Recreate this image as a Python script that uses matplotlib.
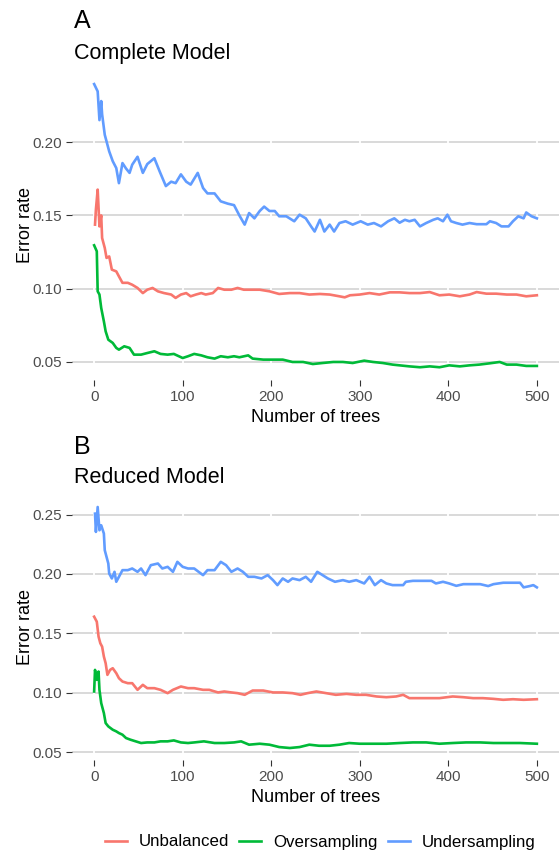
import numpy as np
import matplotlib
matplotlib.use("Agg")
import matplotlib.pyplot as plt
from matplotlib.lines import Line2D
from matplotlib.ticker import FormatStrFormatter

plt.rcParams['font.family'] = ['Liberation Sans', 'DejaVu Sans']

# ---- Panel A: complete model ----
a_under_t = [0, 4, 6, 8, 9, 12, 14, 17, 21, 25,
             28, 32, 36, 40, 43, 49, 55, 60, 68, 74,
             81, 87, 92, 98, 104, 109, 117, 123, 128, 136,
             143, 151, 158, 164, 170, 175, 181, 187, 192, 198,
             204, 209, 217, 226, 232, 239, 245, 249, 255, 260,
             266, 271, 277, 284, 292, 301, 309, 316, 324, 332,
             339, 345, 351, 356, 362, 368, 375, 383, 388, 394,
             399, 403, 409, 416, 424, 432, 443, 447, 454, 460,
             468, 473, 479, 485, 488, 494, 500]
a_under = [0.2396, 0.2346, 0.2150, 0.2280, 0.2190, 0.2050, 0.2005, 0.1937, 0.1870, 0.1823,
           0.1720, 0.1857, 0.1820, 0.1790, 0.1846, 0.1900, 0.1790, 0.1850, 0.1890, 0.1800,
           0.1700, 0.1730, 0.1720, 0.1780, 0.1730, 0.1710, 0.1790, 0.1687, 0.1650, 0.1650,
           0.1596, 0.1580, 0.1570, 0.1500, 0.1437, 0.1516, 0.1480, 0.1530, 0.1560, 0.1530,
           0.1530, 0.1494, 0.1494, 0.1460, 0.1505, 0.1480, 0.1425, 0.1390, 0.1470, 0.1390,
           0.1437, 0.1390, 0.1448, 0.1460, 0.1437, 0.1460, 0.1437, 0.1448, 0.1425, 0.1460,
           0.1480, 0.1450, 0.1470, 0.1460, 0.1470, 0.1425, 0.1448, 0.1470, 0.1480, 0.1460,
           0.1505, 0.1460, 0.1448, 0.1437, 0.1448, 0.1440, 0.1440, 0.1460, 0.1448, 0.1425,
           0.1425, 0.1460, 0.1494, 0.1480, 0.1520, 0.1494, 0.1480]

a_unbal_t = [1, 2, 4, 5, 6, 8, 9, 12, 14, 17,
             20, 25, 28, 32, 38, 43, 49, 55, 60, 66,
             72, 79, 87, 92, 98, 104, 109, 115, 121, 126,
             134, 140, 147, 155, 162, 169, 175, 187, 198, 209,
             221, 232, 243, 255, 266, 277, 283, 289, 300, 311,
             322, 334, 345, 356, 368, 379, 390, 401, 413, 424,
             432, 443, 454, 466, 477, 488, 500]
a_unbal = [0.1437, 0.1540, 0.1676, 0.1550, 0.1425, 0.1500, 0.1346, 0.1278, 0.1210, 0.1220,
           0.1130, 0.1118, 0.1084, 0.1040, 0.1040, 0.1027, 0.1005, 0.0970, 0.0993, 0.1005,
           0.0982, 0.0970, 0.0960, 0.0937, 0.0960, 0.0970, 0.0948, 0.0960, 0.0970, 0.0960,
           0.0970, 0.1005, 0.0993, 0.0993, 0.1005, 0.0993, 0.0993, 0.0993, 0.0982, 0.0964,
           0.0970, 0.0970, 0.0960, 0.0964, 0.0960, 0.0948, 0.0941, 0.0955, 0.0960, 0.0970,
           0.0960, 0.0975, 0.0975, 0.0970, 0.0970, 0.0977, 0.0955, 0.0960, 0.0948, 0.0960,
           0.0977, 0.0966, 0.0966, 0.0960, 0.0960, 0.0948, 0.0955]

a_over_t = [0, 3, 4, 6, 8, 11, 13, 16, 21, 25,
            28, 34, 40, 45, 53, 60, 68, 75, 83, 90,
            100, 106, 113, 121, 128, 136, 143, 151, 158, 164,
            174, 179, 191, 202, 213, 224, 236, 247, 258, 270,
            281, 292, 305, 315, 326, 337, 345, 356, 368, 379,
            390, 401, 413, 424, 435, 447, 458, 466, 477, 488, 500]
a_over = [0.1296, 0.1255, 0.0982, 0.0960, 0.0868, 0.0777, 0.0709, 0.0652, 0.0630, 0.0596,
          0.0584, 0.0607, 0.0596, 0.0550, 0.0550, 0.0561, 0.0573, 0.0555, 0.0550, 0.0555,
          0.0527, 0.0539, 0.0555, 0.0545, 0.0532, 0.0523, 0.0539, 0.0532, 0.0539, 0.0532,
          0.0545, 0.0523, 0.0516, 0.0516, 0.0516, 0.0500, 0.0500, 0.0486, 0.0493, 0.0500,
          0.0500, 0.0493, 0.0509, 0.0500, 0.0493, 0.0482, 0.0477, 0.0470, 0.0464, 0.0470,
          0.0464, 0.0477, 0.0470, 0.0477, 0.0482, 0.0491, 0.0500, 0.0482, 0.0482, 0.0473, 0.0473]

# ---- Panel B: reduced model ----
b_under_t = [1, 2, 4, 6, 8, 11, 12, 14, 16, 17,
             20, 23, 25, 28, 32, 38, 43, 49, 53, 58,
             64, 72, 77, 83, 89, 94, 100, 106, 113, 123,
             128, 136, 143, 149, 155, 162, 168, 174, 181, 189,
             196, 202, 207, 213, 219, 224, 232, 239, 245, 252,
             258, 264, 272, 281, 288, 296, 305, 311, 317, 324,
             330, 337, 349, 352, 360, 371, 381, 386, 394, 401,
             409, 417, 424, 436, 445, 451, 462, 474, 481, 485,
             492, 496, 500]
b_under = [0.2508, 0.2354, 0.2564, 0.2368, 0.2410, 0.2340, 0.2200, 0.2144, 0.2088, 0.2004,
           0.1962, 0.2018, 0.1934, 0.1976, 0.2032, 0.2032, 0.2046, 0.2018, 0.2046, 0.1990,
           0.2074, 0.2088, 0.2046, 0.2060, 0.2018, 0.2102, 0.2060, 0.2046, 0.2046, 0.1990,
           0.2032, 0.2032, 0.2102, 0.2074, 0.2018, 0.2046, 0.2018, 0.1976, 0.1976, 0.1962,
           0.1990, 0.1948, 0.1906, 0.1962, 0.1934, 0.1962, 0.1948, 0.1976, 0.1934, 0.2018,
           0.1990, 0.1962, 0.1934, 0.1948, 0.1934, 0.1948, 0.1920, 0.1976, 0.1906, 0.1948,
           0.1920, 0.1906, 0.1906, 0.1934, 0.1942, 0.1942, 0.1942, 0.1920, 0.1934, 0.1920,
           0.1900, 0.1914, 0.1914, 0.1914, 0.1898, 0.1914, 0.1926, 0.1926, 0.1926, 0.1887,
           0.1898, 0.1906, 0.1887]

b_unbal_t = [0, 3, 5, 7, 9, 11, 13, 15, 18, 21,
             25, 28, 32, 38, 43, 49, 55, 60, 68, 75,
             83, 89, 98, 106, 113, 123, 130, 140, 147, 155,
             162, 170, 179, 191, 202, 213, 224, 233, 241, 251,
             262, 273, 285, 296, 307, 319, 330, 341, 349, 356,
             368, 379, 390, 405, 417, 428, 439, 451, 462, 473,
             485, 500]
b_unbal = [0.1640, 0.1598, 0.1472, 0.1416, 0.1388, 0.1304, 0.1248, 0.1150, 0.1192, 0.1206,
           0.1164, 0.1122, 0.1094, 0.1080, 0.1080, 0.1024, 0.1066, 0.1038, 0.1038, 0.1024,
           0.0996, 0.1024, 0.1052, 0.1038, 0.1038, 0.1024, 0.1024, 0.1002, 0.1010, 0.1002,
           0.0996, 0.0982, 0.1018, 0.1018, 0.1002, 0.1002, 0.0996, 0.0982, 0.0996, 0.1010,
           0.0996, 0.0982, 0.0990, 0.0982, 0.0982, 0.0968, 0.0962, 0.0968, 0.0982, 0.0954,
           0.0954, 0.0954, 0.0954, 0.0968, 0.0962, 0.0954, 0.0954, 0.0948, 0.0940, 0.0945,
           0.0940, 0.0945]

b_over_t = [0, 1, 3, 5, 6, 8, 11, 13, 16, 21,
            25, 28, 32, 36, 41, 47, 53, 60, 68, 75,
            83, 90, 98, 106, 113, 124, 136, 147, 158, 166,
            175, 187, 198, 209, 221, 232, 243, 254, 266, 277,
            288, 300, 315, 330, 345, 360, 375, 390, 405, 420,
            436, 451, 466, 481, 500]
b_over = [0.1010, 0.1192, 0.1108, 0.1178, 0.1024, 0.0912, 0.0828, 0.0744, 0.0716, 0.0688,
          0.0674, 0.0660, 0.0646, 0.0618, 0.0604, 0.0590, 0.0576, 0.0581, 0.0581, 0.0590,
          0.0590, 0.0598, 0.0581, 0.0576, 0.0581, 0.0590, 0.0576, 0.0576, 0.0581, 0.0590,
          0.0562, 0.0570, 0.0562, 0.0542, 0.0534, 0.0542, 0.0562, 0.0553, 0.0553, 0.0562,
          0.0576, 0.0570, 0.0570, 0.0570, 0.0576, 0.0581, 0.0581, 0.0570, 0.0576, 0.0581,
          0.0581, 0.0576, 0.0576, 0.0576, 0.0570]

labels = ["Unbalanced", "Oversampling", "Undersampling"]
colors = ["#F8766D", "#00BA38", "#619CFF"]
x_ticks = [0, 100, 200, 300, 400, 500]

W, H = 559, 852
fig = plt.figure(figsize=(W / 100, H / 100), dpi=100)


def px_axes(left, top, right, bottom):
    return fig.add_axes([left / W, 1 - bottom / H, (right - left) / W, (bottom - top) / H])


def style(ax, yticks, ylim):
    ax.set_xlim(-25, 525)
    ax.set_ylim(*ylim)
    for s in ax.spines.values():
        s.set_visible(False)
    ax.set_xticks(x_ticks)
    ax.set_yticks(yticks)
    ax.yaxis.set_major_formatter(FormatStrFormatter('%.2f'))
    ax.tick_params(length=4, width=0.8, color='#333333', labelcolor='#4d4d4d',
                   labelsize=11, pad=3)
    for y in yticks:
        ax.axhline(y, color='#d3d3d3', lw=1.2, zorder=1)
    for x in x_ticks:
        ax.axvline(x, color='white', lw=1.3, zorder=1.5)


LW = 1.9

axA = px_axes(72, 70, 559, 380)
style(axA, [0.05, 0.10, 0.15, 0.20], (0.0377, 0.2492))
axA.plot(a_unbal_t, a_unbal, color=colors[0], lw=LW, zorder=3)
axA.plot(a_over_t, a_over, color=colors[1], lw=LW, zorder=3)
axA.plot(a_under_t, a_under, color=colors[2], lw=LW, zorder=3)

axB = px_axes(72, 495, 559, 760)
style(axB, [0.05, 0.10, 0.15, 0.20, 0.25], (0.0433, 0.2665))
axB.plot(b_unbal_t, b_unbal, color=colors[0], lw=LW, zorder=3)
axB.plot(b_over_t, b_over, color=colors[1], lw=LW, zorder=3)
axB.plot(b_under_t, b_under, color=colors[2], lw=LW, zorder=3)

# titles and axis titles
fig.text(74 / W, 1 - 28 / H, "A", fontsize=18, va='baseline')
fig.text(74 / W, 1 - 59 / H, "Complete Model", fontsize=15.5, va='baseline')
fig.text(74 / W, 1 - 454 / H, "B", fontsize=18, va='baseline')
fig.text(74 / W, 1 - 483 / H, "Reduced Model", fontsize=15.5, va='baseline')

for yc, xl in [(225, 418), (627, 797)]:
    fig.text(25 / W, 1 - yc / H, "Error rate", fontsize=13, rotation=90,
             ha='center', va='center')
    fig.text(316 / W, 1 - xl / H, "Number of trees", fontsize=13,
             ha='center', va='center')

handles = [Line2D([], [], color=c, lw=LW) for c in colors]
fig.legend(handles, labels, ncol=3, loc='center', bbox_to_anchor=(320 / W, 1 - 842 / H),
           frameon=False, fontsize=12.2, handlelength=1.3, handletextpad=0.7,
           columnspacing=0.6)

fig.savefig("out.png", dpi=100)
